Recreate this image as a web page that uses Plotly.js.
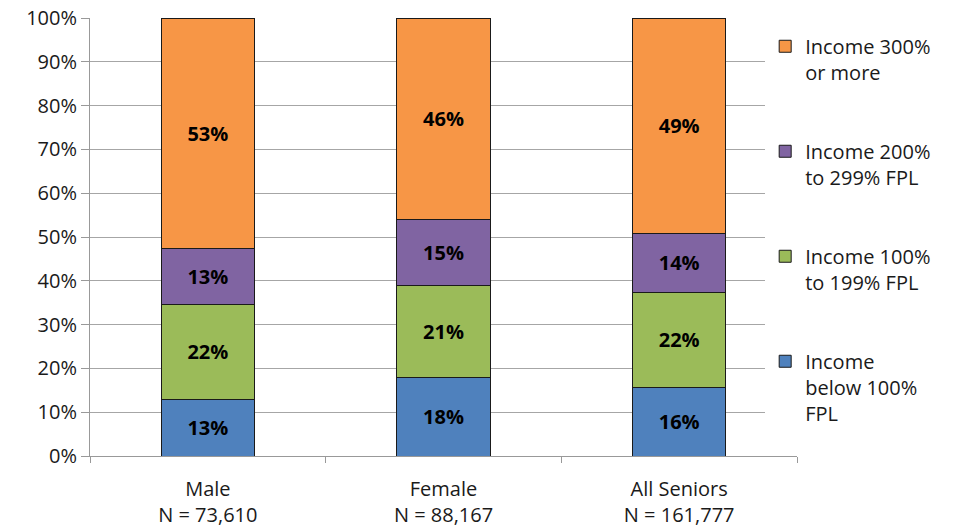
<!DOCTYPE html>
<html>
<head>
<meta charset="utf-8">
<script src="https://cdn.plot.ly/plotly-3.0.1.min.js"></script>
<style>html,body{margin:0;padding:0;background:#fff;}#chart{width:956px;height:531px;}</style>
</head>
<body>
<div id="chart"></div>
<script>
const categories = ["Male<br>N = 73,610", "Female<br>N = 88,167", "All Seniors<br>N = 161,777"];
const seriesNames = ["Income<br>below 100%<br>FPL", "Income 100%<br>to 199% FPL", "Income 200%<br>to 299% FPL", "Income 300%<br>or more"];
const below100 = [12.9, 18.0, 15.7];
const from100to199 = [21.8, 21.0, 21.6];
const from200to299 = [12.7, 14.9, 13.6];
const over300 = [52.6, 46.1, 49.1];
const yTicks = [0, 10, 20, 30, 40, 50, 60, 70, 80, 90, 100];

const colors = ["#4F81BD", "#9BBB59", "#8064A2", "#F79646"];
const seriesValues = [below100, from100to199, from200to299, over300];
const FONT = "'Open Sans', sans-serif";

const traces = seriesValues.map((vals, i) => ({
  type: "bar",
  name: seriesNames[i],
  legendgroup: "g" + i,
  legendrank: 100 - i,
  x: categories,
  y: vals,
  text: vals.map(v => Math.round(v) + "%"),
  texttemplate: "%{text}",
  textposition: "inside",
  insidetextanchor: "middle",
  textangle: 0,
  constraintext: "none",
  textfont: {family: FONT, size: 20, color: "#000", weight: "bold"},
  marker: {color: colors[i], line: {color: "#1a1a1a", width: 1}},
  hoverinfo: "skip"
}));

const layout = {
  width: 956, height: 531,
  margin: {l: 90, r: 159, t: 18, b: 75, autoexpand: false},
  barmode: "stack",
  bargap: 0.605,
  paper_bgcolor: "#fff",
  plot_bgcolor: "#fff",
  font: {family: FONT, size: 20, color: "#1a1a1a"},
  showlegend: true,
  legend: {
    x: 0.955, xanchor: "left", xref: "paper",
    y: 0.98, yanchor: "top",
    bgcolor: "#fff",
    traceorder: "grouped",
    tracegroupgap: 50,
    valign: "top",
    font: {family: FONT, size: 20, color: "#1a1a1a"},
    itemwidth: 30
  },
  xaxis: {
    type: "category",
    tickson: "boundaries",
    ticks: "outside", ticklen: 6, tickcolor: "#999", tickwidth: 1,
    ticklabelstandoff: 15,
    showline: true, linecolor: "#999", linewidth: 1,
    showgrid: false,
    tickfont: {family: FONT, size: 20, color: "#1a1a1a"},
    fixedrange: true
  },
  yaxis: {
    range: [0, 100],
    tickvals: yTicks,
    ticktext: yTicks.map(v => v + "%"),
    ticks: "outside", ticklen: 8, tickcolor: "#999", tickwidth: 1,
    showline: true, linecolor: "#999", linewidth: 1,
    showgrid: true, gridcolor: "#a6a6a6", gridwidth: 1,
    zeroline: false,
    tickfont: {family: FONT, size: 20, color: "#1a1a1a"},
    fixedrange: true
  }
};

Plotly.newPlot("chart", traces, layout, {displayModeBar: false, staticPlot: true});
</script>
</body>
</html>
